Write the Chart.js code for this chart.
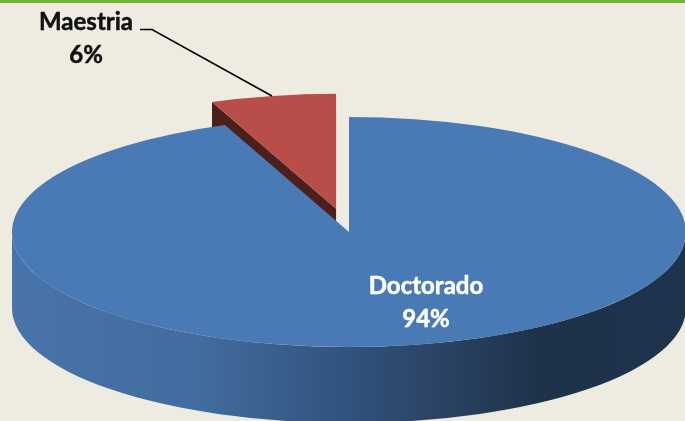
<!DOCTYPE html>
<html lang="es">
<head>
<meta charset="utf-8">
<title>Maestria y Doctorado</title>
<script src="https://cdn.jsdelivr.net/npm/chart.js@4"></script>
<style>
html,body{margin:0;padding:0;background:#eeebe0;width:685px;height:421px;overflow:hidden}
#wrap{position:relative;width:685px;height:421px}
#bar{position:absolute;left:0;top:0;width:685px;height:2.5px;background:#72b42c;z-index:2}
canvas{display:block}
</style>
</head>
<body>
<div id="wrap"><div id="bar"></div><canvas id="c" width="685" height="421"></canvas></div>
<script>
const categories = ['Doctorado', 'Maestria'];
const percentValues = [94, 6];
const sliceColors = ['#4a7ab5', '#b84d49'];
const labelColors = ['#ffffff', '#111111'];

const CENTER_X = 349, CENTER_Y = 232, RADIUS = 337, SQUASH = 115 / 337, DEPTH = 76, EXPLODE = 69;
const LABEL_POS = [[426, 286, 319], [86, 22, 55]];
const LEADER = [[140, 29.5], [152, 29.5], [272, 96]];

function place(ctx, el, shift) {
  const mid = (el.startAngle + el.endAngle) / 2;
  ctx.translate(CENTER_X, CENTER_Y);
  ctx.scale(1, SQUASH);
  ctx.translate(Math.cos(mid) * shift, Math.sin(mid) * shift);
  ctx.translate(-el.x, -el.y);
}
const pie3d = {
  id: 'pie3d',
  beforeDatasetsDraw(chart) {
    const ctx = chart.ctx;
    const arcs = chart.getDatasetMeta(0).data;
    const [blue, red] = arcs;

    // Red slice: cut face, then top (behind the blue slice)
    const mid = (red.startAngle + red.endAngle) / 2;
    const ax = CENTER_X + Math.cos(mid) * EXPLODE;
    const ay = CENTER_Y + Math.sin(mid) * EXPLODE * SQUASH;
    const px = ax + Math.cos(red.startAngle) * RADIUS;
    const py = ay + Math.sin(red.startAngle) * RADIUS * SQUASH;
    ctx.save();
    ctx.fillStyle = '#4a1f1c';
    ctx.beginPath();
    ctx.moveTo(px, py);
    ctx.lineTo(ax, ay);
    ctx.lineTo(ax, ay + DEPTH);
    ctx.lineTo(px, py + DEPTH);
    ctx.closePath();
    ctx.fill();
    ctx.restore();

    ctx.save(); place(ctx, red, EXPLODE); red.draw(ctx); ctx.restore();

    // Blue slice: rim, then top
    const g = ctx.createLinearGradient(CENTER_X - RADIUS, 0, CENTER_X + RADIUS, 0);
    g.addColorStop(0, '#4874ab');
    g.addColorStop(0.28, '#426c9f');
    g.addColorStop(0.5, '#30527c');
    g.addColorStop(0.63, '#2b4465');
    g.addColorStop(0.78, '#1e324a');
    g.addColorStop(1, '#1e334c');
    ctx.save();
    ctx.fillStyle = g;
    ctx.beginPath();
    ctx.ellipse(CENTER_X, CENTER_Y, RADIUS, RADIUS * SQUASH, 0, 0, Math.PI);
    ctx.lineTo(CENTER_X - RADIUS, CENTER_Y + DEPTH);
    ctx.ellipse(CENTER_X, CENTER_Y + DEPTH, RADIUS, RADIUS * SQUASH, 0, Math.PI, 0, true);
    ctx.closePath();
    ctx.fill();
    ctx.restore();

    ctx.save(); place(ctx, blue, 0); blue.draw(ctx); ctx.restore();
    return false;
  },
  afterDraw(chart) {
    const ctx = chart.ctx;
    ctx.save();
    ctx.strokeStyle = '#000000';
    ctx.lineWidth = 1.5;
    ctx.beginPath();
    LEADER.forEach((p, i) => i ? ctx.lineTo(p[0], p[1]) : ctx.moveTo(p[0], p[1]));
    ctx.stroke();
    ctx.textAlign = 'center';
    ctx.textBaseline = 'middle';
    ctx.font = 'bold 24px Lato, "Open Sans", sans-serif';
    ctx.lineWidth = 0.5;
    ctx.lineJoin = 'round';
    categories.forEach((name, i) => {
      ctx.fillStyle = labelColors[i];
      ctx.strokeStyle = labelColors[i];
      ctx.fillText(name, LABEL_POS[i][0], LABEL_POS[i][1]);
      ctx.strokeText(name, LABEL_POS[i][0], LABEL_POS[i][1]);
      ctx.fillText(percentValues[i] + '%', LABEL_POS[i][0], LABEL_POS[i][2]);
      ctx.strokeText(percentValues[i] + '%', LABEL_POS[i][0], LABEL_POS[i][2]);
    });
    ctx.restore();
  }
};

new Chart(document.getElementById('c'), {
  type: 'pie',
  data: {
    labels: categories,
    datasets: [{
      data: percentValues,
      backgroundColor: sliceColors,
      borderWidth: 0
    }]
  },
  options: {
    responsive: false,
    animation: false,
    radius: RADIUS,
    events: [],
    plugins: { legend: { display: false }, tooltip: { enabled: false } },
    layout: { padding: 0 }
  },
  plugins: [pie3d]
});
</script>
</body>
</html>
